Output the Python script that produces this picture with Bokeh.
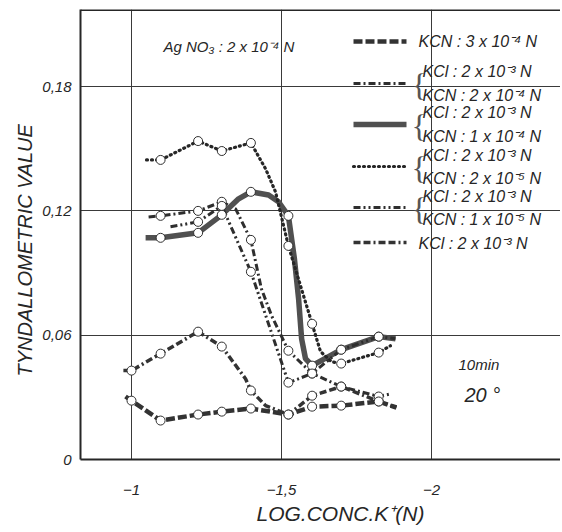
from bokeh.plotting import figure
from bokeh.models import Range1d, FixedTicker, Span, Title
from bokeh.core.properties import value
from bokeh.embed import file_html
from bokeh.resources import INLINE

# ---------------- data ----------------
x_ticks = [-1, -1.5, -2]
x_tick_labels = ["−1", "−1,5", "−2"]
y_ticks = [0, 0.06, 0.12, 0.18]
y_tick_labels = ["0", "0,06", "0,12", "0,18"]

# KCN 3x10-4 N
kcn3_x = [-0.98, -1.0, -1.097, -1.222, -1.301, -1.398, -1.523, -1.602, -1.699, -1.824, -1.883]
kcn3_y = [0.0304, 0.0284, 0.0188, 0.0217, 0.0231, 0.0246, 0.0217, 0.0255, 0.0260, 0.0280, 0.0251]
kcn3_mx = [-1.0, -1.097, -1.222, -1.301, -1.398, -1.523, -1.602, -1.699, -1.824]
kcn3_my = [0.0284, 0.0188, 0.0217, 0.0231, 0.0246, 0.0217, 0.0255, 0.0260, 0.0280]

# KCl 2x10-3 + KCN 2x10-4
kcn2e4_x = [-1.057, -1.097, -1.222, -1.301, -1.347, -1.398, -1.433, -1.467, -1.523, -1.602, -1.699, -1.824, -1.867]
kcn2e4_y = [0.1171, 0.1176, 0.1200, 0.1244, 0.1210, 0.1060, 0.0824, 0.0694, 0.0525, 0.0415, 0.0352, 0.0304, 0.0318]
kcn2e4_mx = [-1.097, -1.222, -1.301, -1.398, -1.523, -1.602, -1.699, -1.824]
kcn2e4_my = [0.1176, 0.1200, 0.1244, 0.1060, 0.0525, 0.0415, 0.0352, 0.0304]

# KCl 2x10-3 + KCN 1x10-4
kcn1e4_x = [-1.047, -1.097, -1.222, -1.301, -1.357, -1.398, -1.457, -1.49, -1.523, -1.543, -1.557, -1.567, -1.58, -1.602, -1.699, -1.824, -1.88]
kcn1e4_y = [0.1070, 0.1070, 0.1094, 0.1181, 0.1258, 0.1292, 0.1277, 0.1244, 0.1176, 0.0969, 0.0776, 0.0583, 0.0487, 0.0453, 0.0530, 0.0593, 0.0583]
kcn1e4_mx = [-1.097, -1.222, -1.301, -1.398, -1.523, -1.602, -1.699, -1.824]
kcn1e4_my = [0.1070, 0.1094, 0.1181, 0.1292, 0.1176, 0.0453, 0.0530, 0.0593]

# KCl 2x10-3 + KCN 2x10-5
kcn2e5_x = [-1.05, -1.097, -1.222, -1.301, -1.398, -1.447, -1.48, -1.523, -1.602, -1.63, -1.667, -1.699, -1.824, -1.863]
kcn2e5_y = [0.1446, 0.1446, 0.1537, 0.1489, 0.1528, 0.1403, 0.1292, 0.1031, 0.0655, 0.0521, 0.0472, 0.0463, 0.0516, 0.0549]
kcn2e5_mx = [-1.097, -1.222, -1.301, -1.398, -1.523, -1.602, -1.699, -1.824]
kcn2e5_my = [0.1446, 0.1537, 0.1489, 0.1528, 0.1031, 0.0655, 0.0463, 0.0516]

# KCl 2x10-3 + KCN 1x10-5
kcn1e5_x = [-1.13, -1.222, -1.301, -1.398, -1.523, -1.602, -1.699, -1.824, -1.88]
kcn1e5_y = [0.1123, 0.1147, 0.1224, 0.0906, 0.0371, 0.0415, 0.0530, 0.0593, 0.0583]
kcn1e5_mx = [-1.222, -1.301, -1.398, -1.523, -1.602, -1.699, -1.824]
kcn1e5_my = [0.1147, 0.1224, 0.0906, 0.0371, 0.0415, 0.0530, 0.0593]

# KCl 2x10-3 alone
kcl_x = [-0.973, -1.0, -1.097, -1.222, -1.301, -1.38, -1.398, -1.447, -1.523, -1.602, -1.699, -1.824, -1.883]
kcl_y = [0.0429, 0.0429, 0.0511, 0.0617, 0.0545, 0.0390, 0.0333, 0.0260, 0.0217, 0.0308, 0.0352, 0.0280, 0.0251]
kcl_mx = [-1.0, -1.097, -1.222, -1.301, -1.398, -1.523, -1.602, -1.699, -1.824]
kcl_my = [0.0429, 0.0511, 0.0617, 0.0545, 0.0333, 0.0217, 0.0308, 0.0352, 0.0280]

legend_labels = [
    ["KCN : 3 x 10⁻⁴ N"],
    ["KCl : 2 x 10⁻³ N", "KCN : 2 x 10⁻⁴ N"],
    ["KCl : 2 x 10⁻³ N", "KCN : 1 x 10⁻⁴ N"],
    ["KCl : 2 x 10⁻³ N", "KCN : 2 x 10⁻⁵ N"],
    ["KCl : 2 x 10⁻³ N", "KCN : 1 x 10⁻⁵ N"],
    ["KCl : 2 x 10⁻³ N"],
]

x_title = "LOG.CONC.K⁺(N)"
y_title = "TYNDALLOMETRIC  VALUE"

# ---------------- layout ----------------
X0, X1 = -0.83, -2.43
Y0, Y1 = 0.0, 0.2172
FL, FT, FW, FH = 82, 11, 480, 450   # frame in page pixels


def dx(px):
    return X0 + (px - FL) * (X1 - X0) / FW


def dy(py):
    return Y1 - (py - FT) * (Y1 - Y0) / FH


FONT = value("Liberation Sans")
INK = "#262626"

p = figure(width=560, height=530, output_backend="svg", toolbar_location=None,
           x_range=Range1d(X0, X1), y_range=Range1d(Y0, Y1),
           min_border_left=80, min_border_right=0, min_border_top=9, min_border_bottom=71)
p.outline_line_color = None
p.background_fill_color = "white"
p.border_fill_color = "white"

for ax in (p.xaxis[0], p.yaxis[0]):
    ax.axis_line_width = 2
    ax.axis_line_color = INK
    ax.major_tick_out = 0
    ax.major_tick_in = 0
    ax.minor_tick_out = 0
    ax.minor_tick_in = 0
    ax.major_label_text_font = "Liberation Sans"
    ax.major_label_text_font_style = "italic"
    ax.major_label_text_font_size = "15px"
    ax.major_label_text_color = INK

p.xaxis.ticker = FixedTicker(ticks=x_ticks)
p.xaxis.major_label_overrides = dict(zip(x_ticks, x_tick_labels))
p.xaxis.major_label_standoff = 25

p.yaxis.ticker = FixedTicker(ticks=y_ticks)
p.yaxis.major_label_overrides = dict(zip(y_ticks, y_tick_labels))
p.yaxis.major_label_standoff = 9

p.xgrid.ticker = FixedTicker(ticks=x_ticks)
p.ygrid.ticker = FixedTicker(ticks=y_ticks[1:])
for g in (p.xgrid[0], p.ygrid[0]):
    g.grid_line_color = "#3a3a3a"
    g.grid_line_width = 1
    g.grid_line_alpha = 1.0

p.add_layout(Span(location=Y1, dimension="width", line_color=INK, line_width=3))

# axis titles placed like the original (shifted off the frame centre)
p.add_layout(Title(text=x_title, align="left", offset=176, standoff=4,
                   text_font="Liberation Sans", text_font_style="italic",
                   text_font_size="21px", text_color=INK), "below")
p.add_layout(Title(text=y_title, align="left", offset=83, standoff=8,
                   text_font="Liberation Sans", text_font_style="italic",
                   text_font_size="20px", text_color=INK), "left")

styles = [
    dict(line_width=4.5, line_dash="9 3", line_color="#333333"),
    dict(line_width=3, line_dash="7 3 2 3", line_color="#2e2e2e"),
    dict(line_width=5.5, line_dash="solid", line_color="#505050"),
    dict(line_width=3.2, line_dash="1 4", line_color="#262626", line_cap="round"),
    dict(line_width=3, line_dash="7 3 2 3 2 3", line_color="#2e2e2e"),
    dict(line_width=3.5, line_dash="7 3 7 3 2 3", line_color="#333333"),
]

series = [
    (kcn3_x, kcn3_y, kcn3_mx, kcn3_my),
    (kcn2e4_x, kcn2e4_y, kcn2e4_mx, kcn2e4_my),
    (kcn1e4_x, kcn1e4_y, kcn1e4_mx, kcn1e4_my),
    (kcn2e5_x, kcn2e5_y, kcn2e5_mx, kcn2e5_my),
    (kcn1e5_x, kcn1e5_y, kcn1e5_mx, kcn1e5_my),
    (kcl_x, kcl_y, kcl_mx, kcl_my),
]

for (lx, ly, mx, my), st in zip(series, styles):
    p.line(lx, ly, **st)
for (lx, ly, mx, my), st in zip(series, styles):
    p.scatter(mx, my, marker="circle", size=9, fill_color="white",
              line_color="#303030", line_width=1)

# ---------------- legend (drawn by hand) ----------------
sample_y = [43, 85, 126, 168, 209, 244]
line_y = [[43], [73, 97], [114, 138], [157, 180], [198, 221], [245]]
for st, sy, labels, ly in zip(styles, sample_y, legend_labels, line_y):
    p.line([dx(355), dx(408)], [dy(sy), dy(sy)], **st)
    if len(labels) == 2:
        p.text(x=[dx(413)], y=[dy(sy + 1)], text=["{"], text_font=value("Liberation Serif"),
               text_font_size="32px", text_baseline="middle", text_align="left",
               text_color="#555555")
        tx = 424
    else:
        tx = 420
    p.text(x=[dx(tx)] * len(labels), y=[dy(v) for v in ly], text=labels,
           text_font=FONT, text_font_style="italic", text_font_size="16px",
           text_baseline="middle", text_align="left", text_color=INK)

p.text(x=[dx(165)], y=[dy(48)], text=["Ag NO₃ : 2 x 10⁻⁴ N"], text_font=FONT,
       text_font_style="italic", text_font_size="15px", text_baseline="middle",
       text_color=INK)
p.text(x=[dx(460)], y=[dy(366)], text=["10min"], text_font=FONT,
       text_font_style="italic", text_font_size="15px", text_baseline="middle",
       text_color=INK)
p.text(x=[dx(466)], y=[dy(396)], text=["20 °"], text_font=FONT,
       text_font_style="italic", text_font_size="20px", text_baseline="middle",
       text_color=INK)

open("out.html", "w").write(file_html(p, INLINE))
